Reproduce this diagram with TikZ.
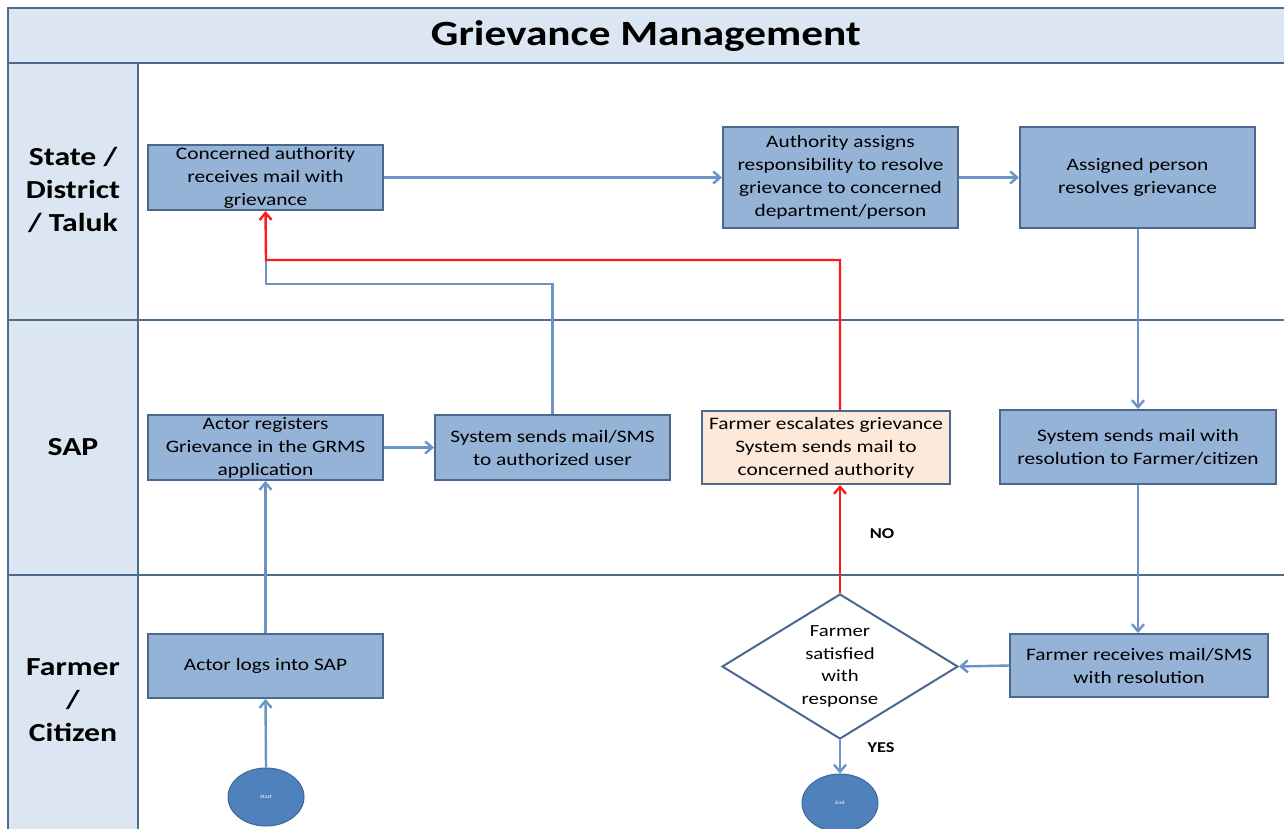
\documentclass[tikz,border=0pt]{standalone}
\usepackage{fontspec}
\setmainfont{Carlito}[FakeStretch=1.22]
\usetikzlibrary{shapes.geometric,arrows.meta}
\definecolor{band}{HTML}{DCE6F2}
\definecolor{frame}{HTML}{4F6B8C}
\definecolor{boxfill}{HTML}{95B3D7}
\definecolor{boxline}{HTML}{4A6890}
\definecolor{peach}{HTML}{FDE9D9}
\definecolor{flow}{HTML}{6A93C8}
\definecolor{termfill}{HTML}{4F81BD}
\definecolor{esc}{HTML}{FF1A1A}
\begin{document}
\begin{tikzpicture}[x=1pt,y=-1pt,
  proc/.style={draw=boxline, line width=2pt, fill=boxfill, align=center,
    font=\fontsize{17.5}{23}\selectfont, inner sep=2pt},
  escbox/.style={proc, fill=peach},
  decision/.style={diamond, draw=boxline, line width=2pt, fill=white,
    minimum width=236, minimum height=145, inner sep=0pt},
  terminal/.style={ellipse, draw=termfill!80!black, line width=1pt, fill=termfill,
    minimum width=76, minimum height=58, inner sep=0pt, text=white,
    font=\fontsize{5}{6}\selectfont},
  lanelabel/.style={align=center, font=\fontsize{26}{33}\selectfont\bfseries},
  flowline/.style={draw=flow, line width=2.4pt, -{Straight Barb[length=7pt,width=12pt]}},
  escline/.style={draw=esc, line width=2.4pt, -{Straight Barb[length=7pt,width=12pt]}},
  plainflow/.style={draw=flow, line width=2.4pt},
  tag/.style={font=\fontsize{15}{18}\selectfont\bfseries},
]
\useasboundingbox (0,0) rectangle (1284,829);
\begin{scope}
\clip (0,0) rectangle (1284,829);
% frame
\fill[white] (0,0) rectangle (1284,829);
\fill[band] (8,8) rectangle (1300,63);
\fill[band] (8,63) rectangle (138,840);
\draw[frame, line width=2.5pt] (8,840) -- (8,8) -- (1300,8);
\draw[frame, line width=2.5pt] (8,63) -- (1300,63);
\draw[frame, line width=2pt] (138,63) -- (138,840);
\draw[frame, line width=2pt] (8,320) -- (1300,320);
\draw[frame, line width=2pt] (8,575) -- (1300,575);
\end{scope}
\node[font=\fontsize{35.5}{40}\selectfont\bfseries] (title) at (646,36) {Grievance Management};
\node[lanelabel] (lane1) at (73,190) {State /\\District\\/ Taluk};
\node[lanelabel] (lane2) at (73,447) {SAP};
\node[lanelabel] (lane3) at (73,700) {Farmer\\/\\Citizen};

% boxes
\node[proc, minimum width=235, minimum height=65] (b1) at (265.5,177.5) {Concerned authority\\receives mail with\\grievance};
\node[proc, minimum width=235, minimum height=101] (b2) at (840.5,177.5) {Authority assigns\\responsibility to resolve\\grievance to concerned\\department/person};
\node[proc, minimum width=235, minimum height=101] (b3) at (1137.5,177.5) {Assigned person\\resolves grievance};
\node[proc, minimum width=235, minimum height=65] (b4) at (265.5,447.5) {Actor registers\\Grievance in the GRMS\\application};
\node[proc, minimum width=235, minimum height=65] (b5) at (552.5,447.5) {System sends mail/SMS\\to authorized user};
\node[escbox, minimum width=248, minimum height=73] (b6) at (826,447.5) {Farmer escalates grievance\\System sends mail to\\concerned authority};
\node[proc, minimum width=276, minimum height=74] (b7) at (1138,447) {System sends mail with\\resolution to Farmer/citizen};
\node[proc, minimum width=235, minimum height=64] (b8) at (265.5,666) {Actor logs into SAP};
\node[proc, minimum width=258, minimum height=63] (b9) at (1139,665.5) {Farmer receives mail/SMS\\with resolution};
\node[decision] (dec) at (840,666.5) {};
\node[align=center, font=\fontsize{17}{22.5}\selectfont] (dectext) at (dec.center) {Farmer\\satisfied\\with\\response};
\node[terminal] (start) at (266,797) {Start};
\node[terminal] (end) at (840,803) {End};

% connectors
\draw[flowline] (start.north) -- (b8.south);
\draw[flowline] (b8.north) -- (b4.south);
\draw[flowline] (b4.east) -- (b5.west);
\draw[plainflow] (b5.north) |- (266,284) -- (266,258);
\draw[flowline] (b1.east) -- (b2.west);
\draw[flowline] (b2.east) -- (b3.west);
\draw[flowline] (b3.south -| b7.north) -- (b7.north);
\draw[flowline] (b7.south) -- (b7.south |- b9.north);
\draw[flowline] (b9.west) -- (dec.east);
\draw[flowline] (dec.south) -- (end.north);
\draw[escline] (dec.north) -- (b6.south -| dec.north);
\node[tag] (no) at (882,534) {NO};
\draw[escline] (b6.north -| dec.north) |- (266,260) -- (b1.south);
\node[tag] (yes) at (881,748) {YES};
\end{tikzpicture}
\end{document}
